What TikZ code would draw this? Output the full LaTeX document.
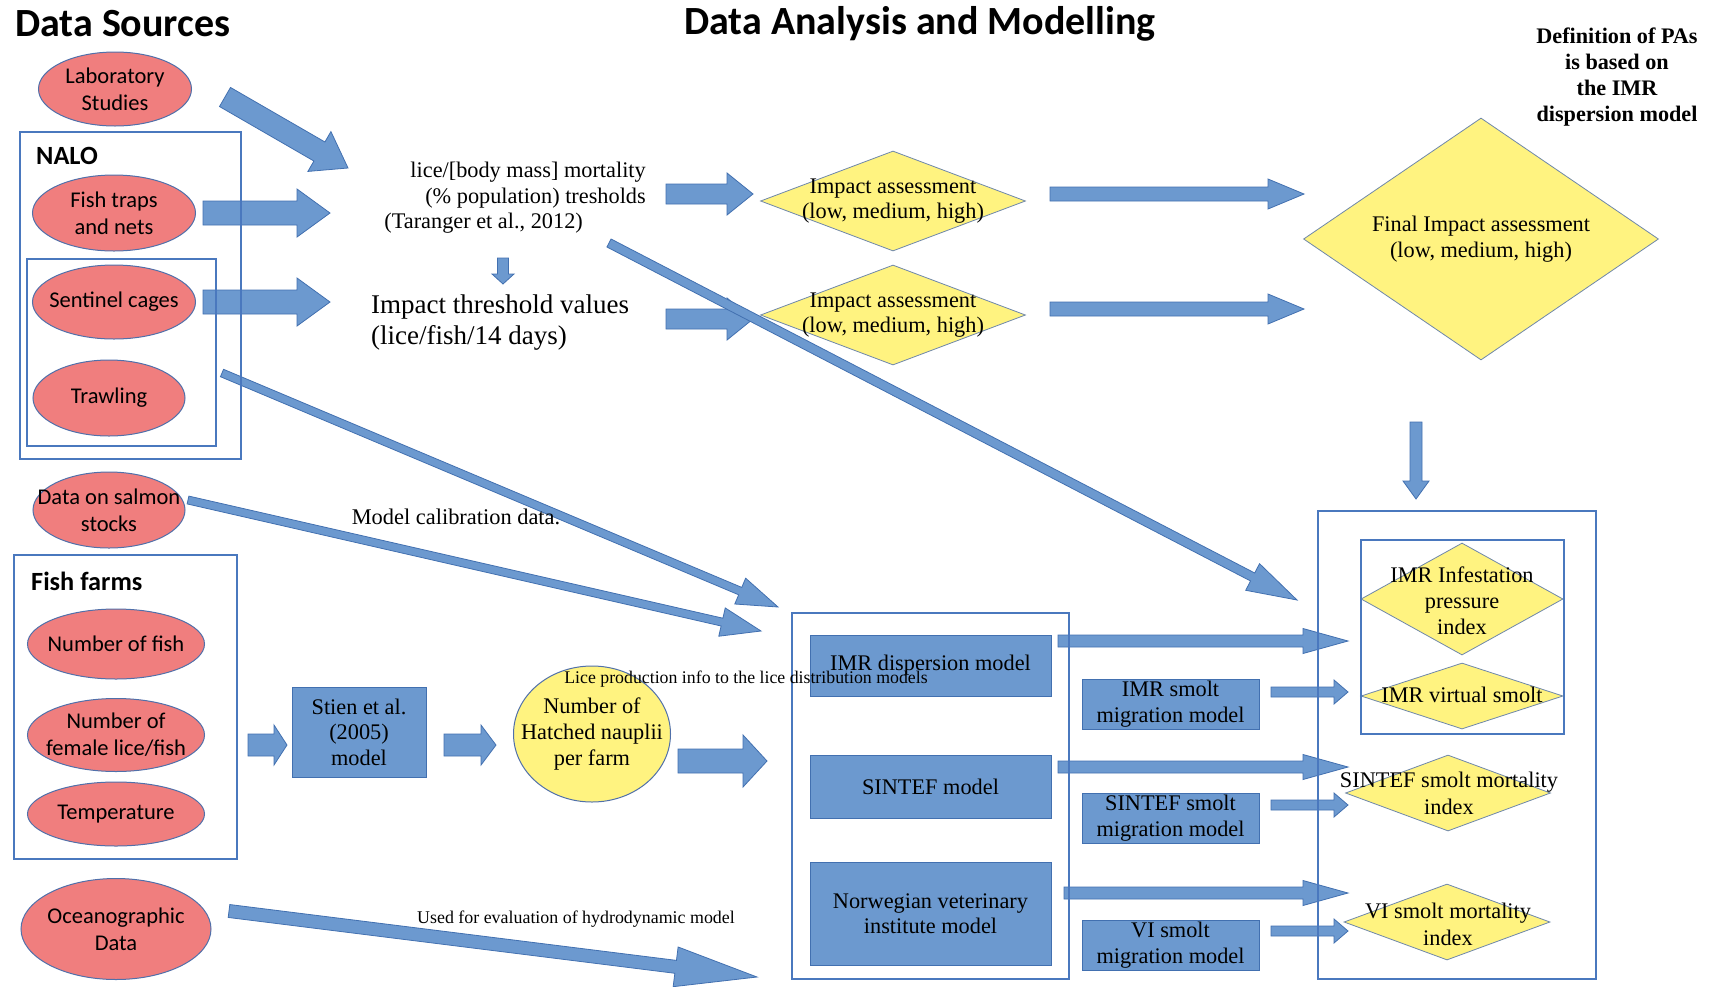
\documentclass[tikz,border=0pt]{standalone}
\usepackage{fontspec}
\setmainfont{Liberation Serif}
\newfontfamily\cali{Carlito}
\usetikzlibrary{shapes.geometric,calc}

\definecolor{abl}{RGB}{108,153,207}
\definecolor{abd}{RGB}{66,112,176}
\definecolor{efill}{RGB}{240,126,126}
\definecolor{edraw}{RGB}{80,112,170}
\definecolor{yfill}{RGB}{255,243,128}
\definecolor{ydraw}{RGB}{110,135,170}
\definecolor{lbox}{RGB}{74,120,190}

\newcommand\ser{\fontsize{22.3}{25.5}\selectfont}
\newcommand\barrow[5]{%
  \coordinate (ah) at ($(#2)!#5!(#1)$);
  \filldraw[blk] ($(#1)!#3!90:(#2)$) -- ($(ah)!#3!90:(#2)$) -- ($(ah)!#4!90:(#2)$) -- (#2) -- ($(ah)!#4!-90:(#2)$) -- ($(ah)!#3!-90:(#2)$) -- ($(#1)!#3!-90:(#2)$) -- cycle;
}

\tikzset{
  ell/.style={ellipse, draw=edraw, fill=efill, line width=1pt, inner sep=0pt},
  elbl/.style={inner sep=0pt, align=center, font=\cali\fontsize{22.5}{27}\selectfont},
  dia/.style={diamond, draw=ydraw, fill=yfill, line width=0.8pt, inner sep=0pt},
  bbox/.style={rectangle, draw=abd, fill=abl, line width=1pt, inner sep=0pt, align=center, font=\ser},
  frame/.style={rectangle, draw=lbox, line width=1.2pt, inner sep=0pt},
  blk/.style={fill=abl, draw=abd, line width=0.8pt, line join=miter},
  txt/.style={inner sep=0pt, align=center, font=\ser},
  ttl/.style={inner sep=0pt, font=\cali\bfseries\fontsize{40}{42}\selectfont},
  hdr/.style={inner sep=0pt, anchor=west, font=\cali\bfseries\fontsize{26.3}{28}\selectfont}
}

\begin{document}
\begin{tikzpicture}[x=1pt,y=-1pt]
\useasboundingbox (0,0) rectangle (1711,986);
\fill[white] (0,0) rectangle (1711,986);

% titles
\node[ttl, anchor=west] (tds) at (15,24) {Data Sources};
\node[ttl] (tdam) at (920,24) {Data Analysis and Modelling};

% data source ellipses
\node[ell, minimum width=153pt, minimum height=74pt, label={[elbl]center:{Laboratory\\Studies}}] (lab) at (115,89) {};
\node[hdr] (nalot) at (36,156) {NALO};
\node[ell, minimum width=163pt, minimum height=76pt, label={[elbl]center:{Fish traps\\and nets}}] (fish) at (114,213) {};
\node[ell, minimum width=163pt, minimum height=74pt, label={[elbl]center:{Sentinel cages}}] (sent) at (114,302) {};
\node[ell, minimum width=152pt, minimum height=76pt, label={[elbl]center:{Trawling}}] (trawl) at (109,398) {};
\node[ell, minimum width=152pt, minimum height=76pt, label={[elbl]center:{Data on salmon\\stocks}}] (sal) at (109,510) {};
\node[hdr] (fft) at (31,581) {Fish farms};
\node[ell, minimum width=177pt, minimum height=70pt, label={[elbl]center:{Number of fish}}] (nof) at (116,644) {};
\node[ell, minimum width=177pt, minimum height=73pt, label={[elbl]center:{Number of\\female lice/fish}}] (nfl) at (116,735) {};
\node[ell, minimum width=177pt, minimum height=64pt, label={[elbl]center:{Temperature}}] (tmp) at (116,814) {};
\node[ell, minimum width=190pt, minimum height=101pt, label={[elbl]center:{Oceanographic\\Data}}] (oce) at (116,929) {};

% middle texts
\node[txt, align=right, anchor=east] (lice) at (646,198) {lice/[body mass] mortality\\(\% population) tresholds\\(Taranger et al., 2012)\hspace*{63pt}};
\node[inner sep=0pt, align=left, anchor=west, font=\fontsize{27}{31}\selectfont] (itv) at (371,323) {Impact threshold values\\(lice/fish/14 days)};

% impact diamonds
\node[dia, minimum width=265pt, minimum height=100pt] (ia1) at (893,201) {};
\node[dia, minimum width=265pt, minimum height=100pt] (ia2) at (893,315) {};
\node[dia, minimum width=355pt, minimum height=242pt] (fin) at (1481,239) {};
\node[inner sep=0pt, align=center, font=\bfseries\fontsize{22.2}{26}\selectfont] (defn) at (1617,77) {Definition of PAs\\is based on\\the IMR\\dispersion model};

% farm model chain
\node[bbox, minimum width=134pt, minimum height=90pt] (stien) at (359,732) {Stien et al.\\(2005)\\model};
\node[ellipse, draw=edraw, fill=yfill, line width=1pt, inner sep=0pt, minimum width=157pt, minimum height=136pt, label={[inner sep=0pt, align=center, font=\fontsize{22.3}{26}\selectfont]center:{Number of\\Hatched nauplii\\per farm}}] (nau) at (592,734) {};

% model boxes
\node[bbox, minimum width=241pt, minimum height=61pt] (imr) at (930.5,665.5) {IMR dispersion model};
\node[bbox, minimum width=241pt, minimum height=63pt] (sintef) at (930.5,786.5) {SINTEF model};
\node[bbox, minimum width=241pt, minimum height=103pt] (nvi) at (930.5,913.5) {Norwegian veterinary\\institute model};
\node[bbox, minimum width=177pt, minimum height=50pt] (imrs) at (1170.5,704) {IMR smolt\\migration model};
\node[bbox, minimum width=177pt, minimum height=50pt] (sins) at (1170.5,818) {SINTEF smolt\\migration model};
\node[bbox, minimum width=177pt, minimum height=50pt] (vis) at (1170.5,945) {VI smolt\\migration model};

% index diamonds
\node[dia, minimum width=202pt, minimum height=112pt] (dinf) at (1462,599) {};
\node[dia, minimum width=202pt, minimum height=66pt] (dvir) at (1462,696) {};
\node[dia, minimum width=205pt, minimum height=76pt] (dsin) at (1448,793) {};
\node[dia, minimum width=206pt, minimum height=76pt] (dvi) at (1447,922) {};

% arrows
\coordinate (labT) at (225,97);   \coordinate (labH) at (348,168);
\barrow{labT}{labH}{11pt}{23pt}{33pt}
\coordinate (ftT) at (203,213);   \coordinate (ftH) at (330,213);
\barrow{ftT}{ftH}{12pt}{24pt}{33pt}
\coordinate (scT) at (203,302);   \coordinate (scH) at (330,302);
\barrow{scT}{scH}{12pt}{24pt}{33pt}
\coordinate (dnT) at (503,258);   \coordinate (dnH) at (503,284);
\barrow{dnT}{dnH}{5.5pt}{11pt}{10pt}
\coordinate (i1T) at (666,194);   \coordinate (i1H) at (753,194);
\barrow{i1T}{i1H}{10pt}{21pt}{26pt}
\coordinate (i2T) at (666,319);   \coordinate (i2H) at (753,319);
\barrow{i2T}{i2H}{10pt}{21pt}{26pt}
\coordinate (f1T) at (1050,194);  \coordinate (f1H) at (1304,194);
\barrow{f1T}{f1H}{7pt}{15pt}{36pt}
\coordinate (f2T) at (1050,309);  \coordinate (f2H) at (1304,309);
\barrow{f2T}{f2H}{7pt}{15pt}{36pt}
\coordinate (d2T) at (1416,422);  \coordinate (d2H) at (1416,499);
\barrow{d2T}{d2H}{6pt}{13pt}{18pt}
\coordinate (liT) at (609,243);   \coordinate (liH) at (1297,600);
\barrow{liT}{liH}{4.5pt}{15pt}{50pt}
\coordinate (trT) at (222,373);   \coordinate (trH) at (778,607);
\barrow{trT}{trH}{4pt}{14pt}{41pt}
\coordinate (saT) at (188,500);   \coordinate (saH) at (761,631);
\barrow{saT}{saH}{4pt}{14.5pt}{40pt}
\coordinate (ocT) at (229,911);   \coordinate (ocH) at (757,977);
\barrow{ocT}{ocH}{6.5pt}{20pt}{82pt}
\coordinate (m1T) at (1058,641);  \coordinate (m1H) at (1348,641);
\barrow{m1T}{m1H}{6pt}{12.5pt}{45pt}
\coordinate (m2T) at (1058,767);  \coordinate (m2H) at (1348,767);
\barrow{m2T}{m2H}{6pt}{12.5pt}{45pt}
\coordinate (m3T) at (1064,893);  \coordinate (m3H) at (1348,893);
\barrow{m3T}{m3H}{6pt}{12.5pt}{45pt}
\coordinate (s1T) at (1271,692);  \coordinate (s1H) at (1348,692);
\barrow{s1T}{s1H}{5pt}{12pt}{14pt}
\coordinate (s2T) at (1271,805);  \coordinate (s2H) at (1348,805);
\barrow{s2T}{s2H}{5pt}{12pt}{14pt}
\coordinate (s3T) at (1271,931);  \coordinate (s3H) at (1348,931);
\barrow{s3T}{s3H}{5pt}{12pt}{14pt}
\coordinate (a1T) at (248,745);   \coordinate (a1H) at (287,745);
\barrow{a1T}{a1H}{11pt}{20pt}{13pt}
\coordinate (a2T) at (444,745);   \coordinate (a2H) at (496,745);
\barrow{a2T}{a2H}{11pt}{20pt}{15pt}
\coordinate (a3T) at (678,761);   \coordinate (a3H) at (767,761);
\barrow{a3T}{a3H}{12pt}{26pt}{24pt}

% frames
\node[frame, minimum width=221pt, minimum height=327pt] (nalo) at (130.5,295.5) {};
\node[frame, minimum width=189pt, minimum height=187pt] (ninner) at (121.5,352.5) {};
\node[frame, minimum width=223pt, minimum height=304pt] (ffbox) at (125.5,707) {};
\node[frame, minimum width=277pt, minimum height=366pt] (mbox) at (930.5,796) {};
\node[frame, minimum width=278pt, minimum height=468pt] (rbox) at (1457,745) {};
\node[frame, minimum width=203pt, minimum height=194pt] (ribox) at (1462.5,637) {};

% diamond texts
\node[txt] (ia1t) at (893,201) {Impact assessment\\(low, medium, high)};
\node[txt] (ia2t) at (893,315) {Impact assessment\\(low, medium, high)};
\node[txt] (fint) at (1481,239) {Final Impact assessment\\(low, medium, high)};
\node[txt, font=\fontsize{22.3}{26}\selectfont] (dinft) at (1462,601) {IMR Infestation\\pressure\\index};
\node[txt] (dvirt) at (1462,695) {IMR virtual smolt};
\node[txt, font=\fontsize{22.3}{27}\selectfont] (dsint) at (1449,793) {SINTEF smolt mortality\\index};
\node[txt, font=\fontsize{22.3}{27}\selectfont] (dvit) at (1448,924) {VI smolt mortality\\index};

% labels
\node[txt, font=\fontsize{17.8}{19}\selectfont] (lpi) at (746,679) {Lice production info to the lice distribution models};
\node[txt, font=\fontsize{22.4}{24}\selectfont] (mcd) at (456,517) {Model calibration data.};
\node[txt, font=\fontsize{17.9}{19}\selectfont] (ufe) at (576,919) {Used for evaluation of hydrodynamic model};
\end{tikzpicture}
\end{document}
